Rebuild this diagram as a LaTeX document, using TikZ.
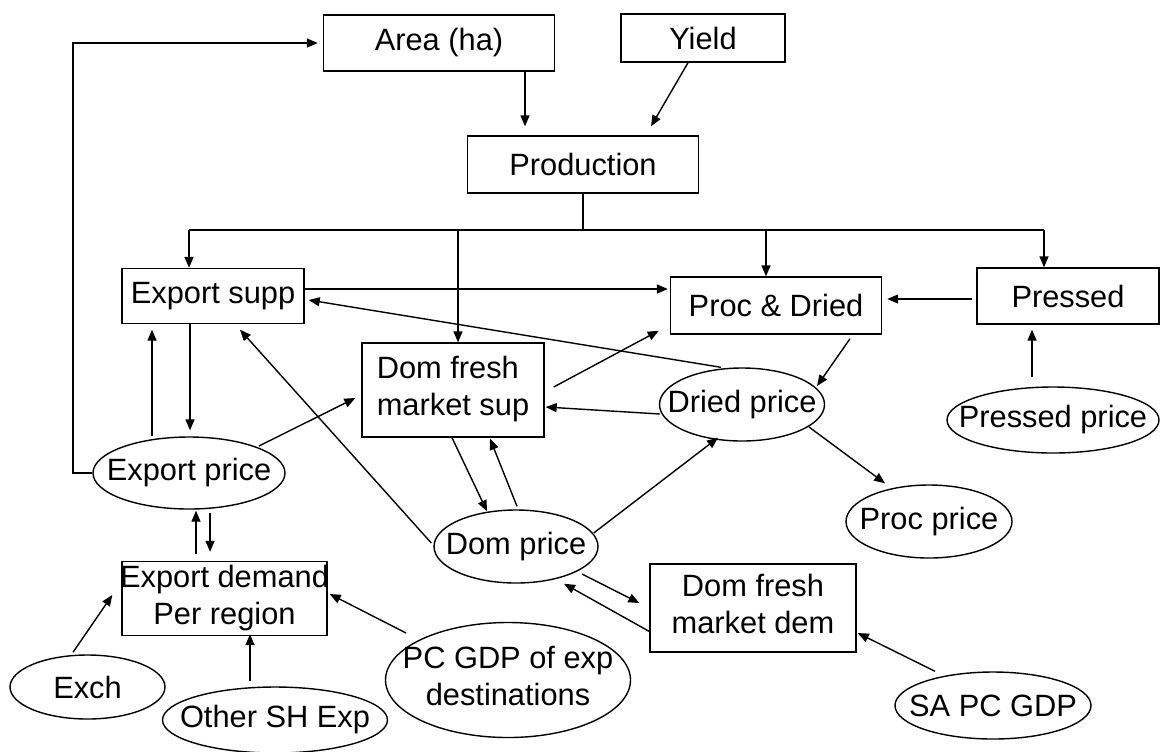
\documentclass[tikz,border=0pt]{standalone}
\usepackage{fontspec}
\setmainfont{Liberation Sans}
\usetikzlibrary{shapes.geometric,arrows.meta,calc}
\newcommand\zw[1]{\makebox[0pt]{#1}}
\newcommand\twoc[2]{\makebox[0pt]{\begin{tabular}{@{}c@{}}#1\\#2\end{tabular}}}
\newcommand\twol[2]{\makebox[0pt]{\begin{tabular}{@{}l@{}}#1\\#2\end{tabular}}}
\begin{document}
\begin{tikzpicture}[x=0.5pt,y=-0.5pt,
  every node/.style={font=\fontsize{15.4}{18.5}\selectfont, inner sep=0pt},
  sz/.style 2 args={minimum width=#1*0.5pt, minimum height=#2*0.5pt},
  box/.style={draw, line width=0.7pt, rectangle},
  oval/.style={draw, line width=0.7pt, ellipse},
  ln/.style={line width=0.7pt},
  arr/.style={line width=0.7pt, -{Triangle[length=5.5pt,width=4.5pt]}}]
\useasboundingbox (0,0) rectangle (1160,751);

% boxes
\node[box, sz={231}{56}] (area) at (439,43) {\zw{Area (ha)}};
\node[box, sz={164}{48}] (yield) at (703,38) {\zw{Yield}};
\node[box, sz={231}{57}] (prod) at (583,164.5) {\zw{Production}};
\node[box, sz={182}{55}] (exps) at (213,296) {\zw{Export supp}};
\node[box, sz={211}{57}] (proc) at (776,305.5) {\zw{Proc \& Dried}};
\node[box, sz={182}{56}] (pressed) at (1068,296) {\zw{Pressed}};
\node[box, sz={182}{94}] (domsup) at (453,390) {\twol{Dom fresh}{market sup}};
\node[box, sz={205}{73}] (expd) at (224.5,598.5) {\twoc{Export demand}{Per region}};
\node[box, sz={206}{88}] (domdem) at (753,608) {\twoc{Dom fresh}{market dem}};

% ellipses
\node[oval, sz={165}{73}] (dried) at (742,404.5) {\zw{Dried price}};
\node[oval, sz={212}{66}] (pressp) at (1053,420) {\zw{Pressed price}};
\node[oval, sz={192}{72}] (expp) at (189,473) {\zw{Export price}};
\node[oval, sz={164}{73}] (domp) at (516,546.5) {\zw{Dom price}};
\node[oval, sz={166}{73}] (procp) at (929,521.5) {\zw{Proc price}};
\node[oval, sz={155}{64}] (exch) at (87.5,687) {\zw{Exch}};
\node[oval, sz={225}{66}] (other) at (275,720) {\zw{Other SH Exp}};
\node[oval, sz={245}{115}] (pcgdp) at (508,680) {\twoc{PC GDP of exp}{destinations}};
\node[oval, sz={196}{67}] (sagdp) at (993,705.5) {\zw{SA PC GDP}};

% loop from export price to area
\coordinate (lp) at (73,0);
\draw[arr, shorten >=2.5pt] (expp.west) -- (expp.west -| lp) -- (lp |- area.west) -- (area.west);

% area, yield -> production
\draw[arr, shorten >=4.5pt] ($(area.south)+(86,0)$) coordinate (a1) -- (a1 |- prod.north);
\draw[arr] ($(yield.south)+(-15,0)$) -- ($(prod.north)+(68,-9)$);

% production bus
\coordinate (bus) at (0,230);
\coordinate (b1) at ($(exps.north)+(-24,0)$);
\coordinate (b2) at ($(domsup.north)+(5,0)$);
\coordinate (b3) at ($(proc.north)+(-10,0)$);
\coordinate (b4) at ($(pressed.north)+(-24,0)$);
\draw[ln] (prod.south) -- (prod.south |- bus);
\draw[ln] (b1 |- bus) -- (b4 |- bus);
\draw[arr] (b1 |- bus) -- (b1);
\draw[arr] (b2 |- bus) -- (b2);
\draw[arr] (b3 |- bus) -- (b3);
\draw[arr] (b4 |- bus) -- (b4);

% middle row
\draw[arr] ($(exps.east)+(0,-7)$) coordinate (c5) -- ($(c5 -| proc.west)+(-2,0)$);
\draw[arr, shorten <=2pt, shorten >=2.5pt] ($(pressed.west)+(0,3)$) coordinate (c6) -- (c6 -| proc.east);
\draw[arr] ($(dried.north)+(-21,0)$) -- ($(exps.east)+(4,4)$);
\draw[arr] ($(domsup.east)+(9,-3)$) -- ($(proc.south west)+(-11,-4)$);
\draw[arr] ($(proc.south)+(74,4)$) -- ($(dried.center)+(75,-18.5)$);
\draw[arr] ($(dried.west)+(1,9.5)$) -- ($(domsup.east)+(1,17)$);
\draw[arr] ($(dried.center)+(67,22.5)$) -- ($(procp.north)+(-44,-1)$);
\draw[arr] ($(domp.east)+(-5,-13.5)$) -- ($(dried.south)+(-24,-4)$);
\draw[arr] ($(pressp.north)+(-21,-9)$) -- ($(pressed.south)+(-36,5)$);

% dom sup <-> dom price
\draw[arr] ($(domsup.south)+(-1,0)$) -- ($(domp.north)+(-29,2)$);
\draw[arr] ($(domp.north)+(1,-3)$) -- ($(domsup.south)+(37,1)$);
\draw[arr] ($(domp.west)+(-2,-3.5)$) -- ($(exps.south)+(27,5.5)$);

% export supp <-> export price
\draw[arr] ($(expp.north)+(-37,0)$) -- ($(exps.south)+(-61,5.5)$);
\draw[arr] ($(exps.south)+(-23,0)$) -- ($(expp.north)+(1,-6)$);
\draw[arr] ($(expp.center)+(70,-27)$) -- ($(domsup.west)+(-6,8)$);

% export price <-> export demand
\draw[arr] ($(expd.north)+(-28.5,-7)$) -- ($(expp.south)+(7,1)$);
\draw[arr] ($(expp.south)+(21,3)$) -- ($(expd.north)+(-14.5,-9)$);

% drivers of export demand
\draw[arr] ($(exch.north)+(-14.5,-2)$) -- ($(expd.west)+(-9,-3.5)$);
\draw[arr] ($(other.north)+(-25,-5)$) -- ($(expd.south)+(25.5,-2)$);
\draw[arr] ($(pcgdp.center)+(-102,-47)$) -- ($(expd.east)+(2,-4.5)$);

% dom price <-> dom demand
\draw[arr] ($(domp.center)+(66,27.5)$) -- ($(domdem.west)+(-10,-5)$);
\draw[arr] ($(domdem.west)+(1,24)$) -- ($(domp.south)+(48,0)$);
\draw[arr] ($(sagdp.north)+(-58,0)$) -- ($(domdem.east)+(1,25)$);
\end{tikzpicture}
\end{document}
